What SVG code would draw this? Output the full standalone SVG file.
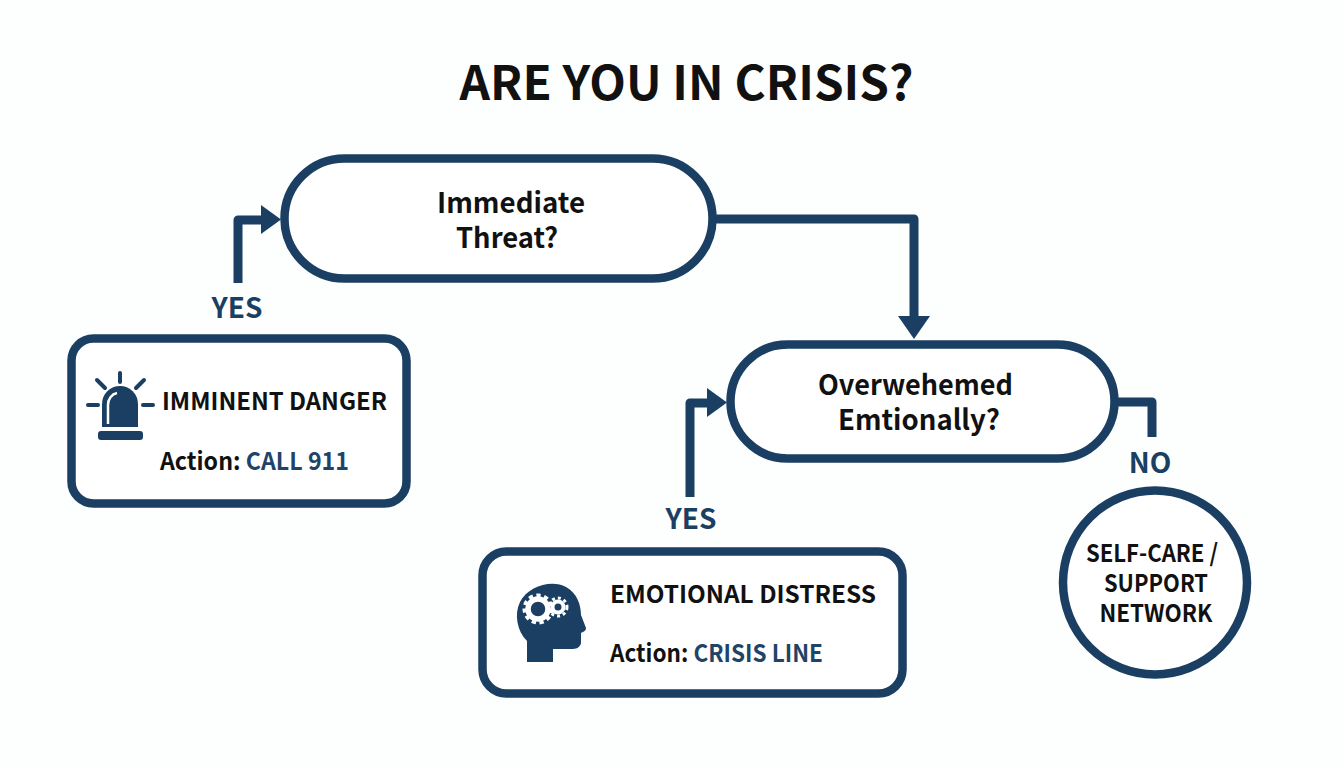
<svg xmlns="http://www.w3.org/2000/svg" width="1344" height="768" viewBox="0 0 1344 768">
<style>
text{font-family:"Noto Sans CJK SC","Noto Sans","Liberation Sans",sans-serif;font-weight:700;fill:#111}
.c{text-anchor:middle}
.node{fill:#fff;stroke:#1b3f63;stroke-width:8.500}
.conn{fill:none;stroke:#1b3f63;stroke-width:9;stroke-linejoin:round}
.head{fill:#1b3f63;stroke:none}
.lab{fill:#1b3f63;font-size:28px}
.t{font-size:28px}
.s{font-size:24.500px}
.blue{fill:#1f4468}
.ic{fill:#1b3f63}
</style>
<rect width="1344" height="768" fill="#fdfefe"/>
<text id="title" class="c" x="686.500" y="100" style="font-size:47.600px">ARE YOU IN CRISIS?</text>
<g id="connectors">
<path class="conn" d="M238 283V220H264"/>
<polygon class="head" points="261,205 281,219.500 261,234"/>
<path class="conn" d="M716 219H914V318"/>
<polygon class="head" points="898,316 930,316 914,339"/>
<path class="conn" d="M690 497V403H710"/>
<polygon class="head" points="707,388 727,402.500 707,417"/>
<path class="conn" d="M1116 402H1152V437"/>
</g>
<g id="node-threat">
<rect class="node" x="284.500" y="158.500" width="428" height="120" rx="60"/>
<text class="c t" x="511" y="213" textLength="148" lengthAdjust="spacingAndGlyphs">Immediate</text>
<text class="c t" x="507" y="248" textLength="102" lengthAdjust="spacingAndGlyphs">Threat?</text>
</g>
<g id="node-overwhelmed">
<rect class="node" x="730.500" y="344.500" width="384" height="114" rx="57"/>
<text class="c t" x="915.500" y="395" textLength="195" lengthAdjust="spacingAndGlyphs">Overwehemed</text>
<text class="c t" x="919" y="430" textLength="162" lengthAdjust="spacingAndGlyphs">Emtionally?</text>
</g>
<g id="label-yes-1"><text class="c lab" x="237" y="318">YES</text></g>
<g id="label-yes-2"><text class="c lab" x="691" y="529">YES</text></g>
<g id="label-no"><text class="c lab" x="1150" y="473">NO</text></g>
<g id="node-danger">
<rect class="node" x="71.500" y="338.500" width="335" height="165" rx="22"/>
<g id="icon-siren">
<path class="ic" d="M102 427V404a18 18 0 0 1 36 0V427Z"/>
<path d="M108 424V405a11 12 0 0 1 9-12" fill="none" stroke="#fff" stroke-width="2.500"/>
<rect class="ic" x="98" y="431" width="45" height="9" rx="3"/>
<path d="M120 373V382M97 380L105 388M144 380L136 388M88 405H98M143 405H153" fill="none" stroke="#1b3f63" stroke-width="4" stroke-linecap="round"/>
</g>
<text class="s" x="162" y="410" textLength="225" lengthAdjust="spacingAndGlyphs">IMMINENT DANGER</text>
<text class="s" x="160" y="470" textLength="189" lengthAdjust="spacingAndGlyphs">Action: <tspan class="blue">CALL 911</tspan></text>
</g>
<g id="node-distress">
<rect class="node" x="482.500" y="551.500" width="420" height="142" rx="24"/>
<g id="icon-head">
<path class="ic" d="M527 662V641C517 631 514 614 520 602C528 586 552 579 566 587C577 593 581 605 581 615L586 628C586 631 583 632 581 633V643C580 648 576 649 571 649H553V662Z"/>
<circle cx="538" cy="609" r="10" fill="none" stroke="#fff" stroke-width="5.500"/>
<circle cx="538" cy="609" r="13.500" fill="none" stroke="#fff" stroke-width="4" stroke-dasharray="4.200 3.500"/>
<circle cx="558" cy="607" r="5.500" fill="none" stroke="#fff" stroke-width="4"/>
<circle cx="558" cy="607" r="9" fill="none" stroke="#fff" stroke-width="3" stroke-dasharray="3 3"/>
</g>
<text class="s" x="610" y="603" textLength="266" lengthAdjust="spacingAndGlyphs">EMOTIONAL DISTRESS</text>
<text class="s" x="610" y="662" textLength="213" lengthAdjust="spacingAndGlyphs">Action: <tspan class="blue">CRISIS LINE</tspan></text>
</g>
<g id="node-selfcare">
<circle class="node" cx="1155" cy="582.500" r="92"/>
<text class="c s" x="1152" y="562" textLength="132" lengthAdjust="spacingAndGlyphs">SELF-CARE /</text>
<text class="c s" x="1156" y="592" textLength="104" lengthAdjust="spacingAndGlyphs">SUPPORT</text>
<text class="c s" x="1156" y="622" textLength="113" lengthAdjust="spacingAndGlyphs">NETWORK</text>
</g>
</svg>
